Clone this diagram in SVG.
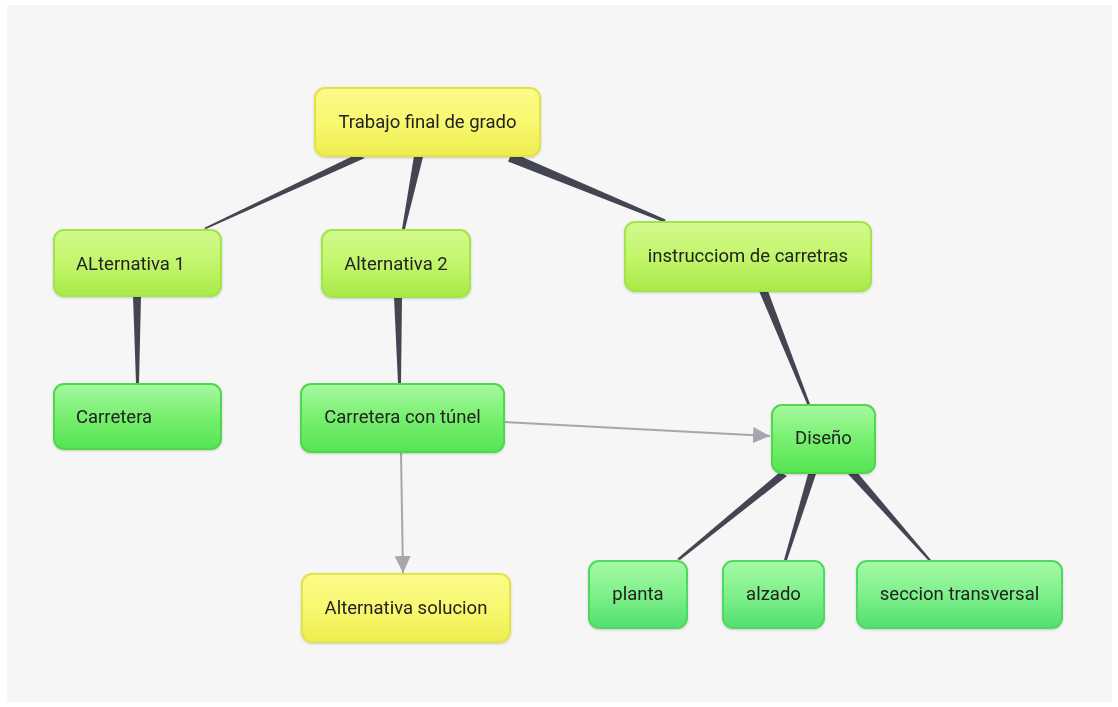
<svg xmlns="http://www.w3.org/2000/svg" width="1118" height="707" viewBox="0 0 1118 707">
<defs>
<linearGradient id="gy" x1="0" y1="0" x2="0" y2="1"><stop offset="0" stop-color="#fbfb8a"/><stop offset="0.5" stop-color="#f8f870"/><stop offset="1" stop-color="#eded4e"/></linearGradient>
<linearGradient id="gl" x1="0" y1="0" x2="0" y2="1"><stop offset="0" stop-color="#d2f98c"/><stop offset="0.5" stop-color="#c3f56c"/><stop offset="1" stop-color="#a8ea48"/></linearGradient>
<linearGradient id="gg" x1="0" y1="0" x2="0" y2="1"><stop offset="0" stop-color="#a6f9a0"/><stop offset="0.5" stop-color="#78ef70"/><stop offset="1" stop-color="#55e453"/></linearGradient>
<linearGradient id="gt" x1="0" y1="0" x2="0" y2="1"><stop offset="0" stop-color="#a6f9a6"/><stop offset="0.5" stop-color="#7ef08a"/><stop offset="1" stop-color="#52e070"/></linearGradient>
<marker id="ah" markerWidth="18" markerHeight="18" refX="17" refY="8" orient="auto" markerUnits="userSpaceOnUse"><path d="M0,0 L17,8 L0,16 z" fill="#a4a7ae"/></marker>
<filter id="sh" x="-10%" y="-10%" width="120%" height="130%"><feDropShadow dx="0" dy="1" stdDeviation="1" flood-color="#000" flood-opacity="0.18"/></filter>
</defs>
<style>
.n rect{stroke-width:2}
.y rect{fill:url(#gy);stroke:#e3e34a}
.l rect{fill:url(#gl);stroke:#a2e44a}
.g rect{fill:url(#gg);stroke:#4fd84a}
.t rect{fill:url(#gt);stroke:#4fd862}
text{font-family:Roboto,"Liberation Sans",sans-serif;font-size:18.5px;fill:#222;dominant-baseline:central}
.w{fill:#434652}
.a{stroke:#a4a7ae;stroke-width:2;fill:none;marker-end:url(#ah)}
</style>
<rect x="0" y="0" width="1118" height="707" fill="#ffffff"/>
<rect x="7" y="5" width="1105" height="697" fill="#f6f6f6"/>
<g id="connectors">
<polygon class="w" points="355,155 365,158 206,229 204,228"/>
<polygon class="w" points="414,156 423,157 405,229 402,229"/>
<polygon class="w" points="512,152.5 508,161.5 664.4,222.4 665.6,219.6"/>
<polygon class="w" points="133,296 141,296 139,383 136,383"/>
<polygon class="w" points="394,297 402,297 401,383 398,383"/>
<polygon class="w" points="759,291 768,291 810,404 807,404"/>
<polygon class="w" points="780,472 787,476 680,560 677,559"/>
<polygon class="w" points="808,474 816,474 787,560 784,560"/>
<polygon class="w" points="848,474 856,471 931,560 928,560"/>
<line class="a" x1="505" y1="422" x2="770" y2="436"/>
<line class="a" x1="401" y1="453" x2="403" y2="573"/>
</g>
<g id="n1" class="n y" filter="url(#sh)"><rect x="315" y="88" width="225" height="68" rx="10"/><text x="427.5" y="122" text-anchor="middle">Trabajo final de grado</text></g>
<g id="n2" class="n l" filter="url(#sh)"><rect x="54" y="230" width="167" height="66" rx="10"/><text x="76" y="264">ALternativa 1</text></g>
<g id="n3" class="n l" filter="url(#sh)"><rect x="322" y="230" width="148" height="67" rx="10"/><text x="396" y="264" text-anchor="middle">Alternativa 2</text></g>
<g id="n4" class="n l" filter="url(#sh)"><rect x="625" y="222" width="246" height="69" rx="10"/><text x="748" y="256" text-anchor="middle">instrucciom de carretras</text></g>
<g id="n5" class="n g" filter="url(#sh)"><rect x="54" y="384" width="167" height="65" rx="10"/><text x="76" y="417">Carretera</text></g>
<g id="n6" class="n g" filter="url(#sh)"><rect x="301" y="384" width="203" height="68" rx="10"/><text x="402.5" y="417" text-anchor="middle">Carretera con túnel</text></g>
<g id="n7" class="n g" filter="url(#sh)"><rect x="772" y="405" width="103" height="68" rx="10"/><text x="823.5" y="438" text-anchor="middle">Diseño</text></g>
<g id="n8" class="n y" filter="url(#sh)"><rect x="302" y="574" width="208" height="68" rx="10"/><text x="406" y="608" text-anchor="middle">Alternativa solucion</text></g>
<g id="n9" class="n t" filter="url(#sh)"><rect x="589" y="561" width="98" height="67" rx="10"/><text x="638" y="594" text-anchor="middle">planta</text></g>
<g id="n10" class="n t" filter="url(#sh)"><rect x="723" y="561" width="101" height="67" rx="10"/><text x="773.5" y="594" text-anchor="middle">alzado</text></g>
<g id="n11" class="n t" filter="url(#sh)"><rect x="857" y="561" width="205" height="67" rx="10"/><text x="959.5" y="594" text-anchor="middle">seccion transversal</text></g>
</svg>
